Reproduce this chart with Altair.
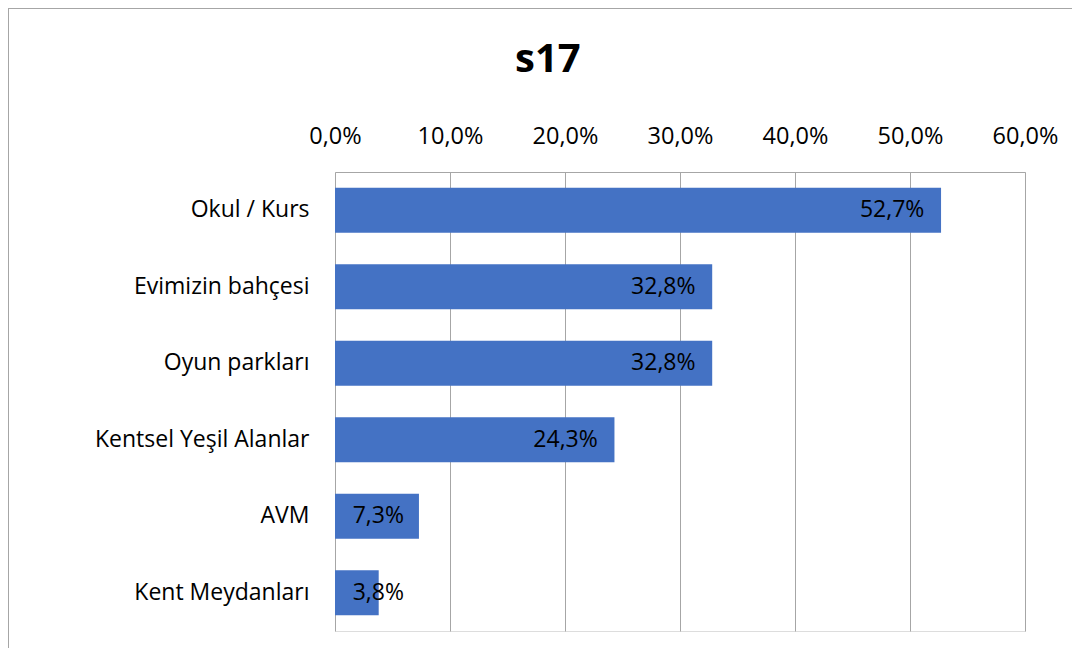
import altair as alt
import pandas as pd

categories = ["Okul / Kurs", "Evimizin bahçesi", "Oyun parkları",
              "Kentsel Yeşil Alanlar", "AVM", "Kent Meydanları"]
values = [52.7, 32.8, 32.8, 24.3, 7.3, 3.8]
tick_values = [0, 10, 20, 30, 40, 50, 60]

df = pd.DataFrame({"cat": categories, "v": values})

FONT = "Open Sans"
GRID = "#a6a6a6"

x_enc = alt.X("v:Q", scale=alt.Scale(domain=[0, 60], nice=False),
              axis=alt.Axis(orient="top", values=tick_values, title=None,
                            labelExpr="replace(format(datum.value, '.1f'), '.', ',') + '%'",
                            grid=True, gridColor=GRID, gridWidth=1,
                            domain=True, domainColor=GRID, ticks=False,
                            labelPadding=24, labelFontSize=23.5, labelFont=FONT,
                            labelColor="#000000", labelFlush=False))
y_enc = alt.Y("cat:N", sort=categories,
              scale=alt.Scale(paddingInner=0.41, paddingOuter=0.205),
              axis=alt.Axis(title=None, ticks=False, domain=False,
                            labelPadding=26, labelFontSize=23, labelFont=FONT,
                            labelColor="#000000", labelLimit=400))

bars = alt.Chart(df).mark_bar(color="#4472C4").encode(x=x_enc, y=y_enc)

text = alt.Chart(df).transform_calculate(
    label="replace(format(datum.v, '.1f'), '.', ',') + '%'",
    pos="max(datum.v - 1.45, 6.0)"
).mark_text(align="right", baseline="middle", font=FONT, fontSize=23,
            color="#000000").encode(
    x=alt.X("pos:Q"), y=alt.Y("cat:N", sort=categories), text="label:N")

border_left = alt.Chart(df).mark_rule(color=GRID, strokeWidth=1).encode(
    x=alt.value(-326.5), y=alt.value(-163.5), y2=alt.value(480))
border_top = alt.Chart(df).mark_rule(color=GRID, strokeWidth=1).encode(
    x=alt.value(-326.5), x2=alt.value(740), y=alt.value(-163.5))

chart = alt.layer(bars, text, border_left, border_top).properties(
    width=690, height=459,
    title=alt.TitleParams("s17", anchor="start", frame="group", dx=180,
                          font=FONT, fontSize=40, fontWeight="bold",
                          color="#000000", baseline="alphabetic", offset=-104),
    autosize=alt.AutoSizeParams(type="none"),
    padding={"left": 327, "top": 164, "right": 47, "bottom": 17},
).configure_view(stroke=None).configure(background="white")

chart.save("out.html", embed_options={"renderer": "svg", "actions": False})
